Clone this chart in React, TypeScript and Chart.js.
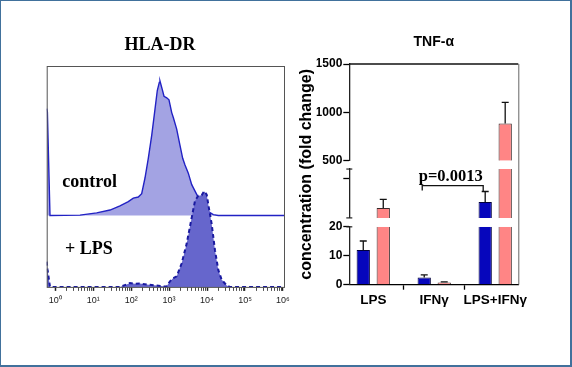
import React, { useEffect, useRef } from 'react';
import { Chart, registerables } from 'chart.js';

Chart.register(...registerables);

const SERIF = "'Liberation Serif', 'Times New Roman', Times, serif";
const SANS = "'Liberation Sans', Arial, Helvetica, sans-serif";

// ---------------- Left panel: HLA-DR histograms ----------------
const histTitle = 'HLA-DR';
const decadeTicks = [0, 1, 2, 3, 4, 5, 6];
const decadeLabels = ['10⁰', '10¹', '10²', '10³', '10⁴', '10⁵', '10⁶'];

// x in log10 units, y in relative counts (above each histogram's own baseline)
const controlLog = [-0.225, -0.207, -0.138, 0.652, 1.092, 1.443, 1.706, 1.925, 2.057, 2.188, 2.278, 2.365, 2.452, 2.542, 2.628, 2.689, 2.742, 2.76, 2.821, 2.866, 2.937, 2.997, 3.069, 3.111, 3.2, 3.287, 3.358, 3.419, 3.506, 3.596, 3.727, 3.859, 3.991, 4.165, 4.296, 6.054];
const controlCount = [48.4, 47.0, 0, 0.2, 1.2, 2.5, 4.4, 6.3, 7.9, 8.4, 9.9, 17.0, 25.9, 36.3, 48.1, 56.6, 60.3, 60.9, 57.0, 54.0, 53.3, 52.4, 46.6, 44.4, 39.1, 31.8, 25.9, 22.9, 19.2, 14.0, 9.6, 5.1, 2.2, 0.4, 0, 0];

const lpsLog = [-0.225, -0.204, -0.138, 1.706, 1.883, 1.97, 2.101, 2.233, 2.41, 2.673, 2.847, 2.918, 3.023, 3.11, 3.2, 3.332, 3.464, 3.596, 3.682, 3.769, 3.859, 3.92, 3.991, 4.033, 4.123, 4.209, 4.296, 4.384, 4.518, 4.605, 6.054];
const lpsCount = [11.4, 8.0, 0, 0, 1.1, 1.8, 1.4, 1.5, 1.1, 0.6, 0.3, 0, 2.5, 4.0, 4.8, 10.7, 19.6, 31.4, 38.9, 41.3, 41.5, 43.3, 41.8, 37.3, 28.4, 16.6, 7.7, 3.3, 0.6, 0, 0];

const histSeriesNames = ['control', '+ LPS'];
// label anchors in data units (log10, y)
const histLabelX = [0.186, 0.257];
const histLabelY = [45.3, 14.7];
const CONTROL_OFFSET = 32.3; // vertical offset of the control histogram

const minorTicks: number[] = [];
for (let d = 0; d < 6; d++) for (let k = 1; k <= 9; k++) minorTicks.push(d + Math.log10(k));
minorTicks.push(6);

// ---------------- Right panel: TNF-alpha bars ----------------
const chartTitle = 'TNF-α';
const yAxisTitle = 'concentration (fold change)';
const categories = ['LPS', 'IFNγ', 'LPS+IFNγ'];
const blueMean = [12, 2.5, 36.2];
const blueErrTop = [15.1, 3.4, 47];
const pinkMean = [30.1, 0.8, 886];
const pinkErrTop = [38.9, 1.0, 1104];
const yBotTicks = [0, 10, 20];
const yMidTicks = [60];
const yTopTicks = [500, 1000, 1500];
const segments = [
  { id: 'yBot', min: 0, max: 20, weight: 58.4 },
  { id: 'yMid', min: 20, max: 70, weight: 49.3 },
  { id: 'yTop', min: 500, max: 1500, weight: 97.7 },
];
const pText = 'p=0.0013';
const pFrom = 1;
const pTo = 2;
const pLevel = 53;
const pDrops = [48, 47];

const isInt = (v: number) => Math.abs(v - Math.round(v)) < 1e-6;

function leftConfig(): any {
  const boxPlugin = {
    id: 'histBox',
    afterDatasetsDraw(chart: any) {
      const { ctx, chartArea: a, scales } = chart;
      ctx.save();
      ctx.strokeStyle = '#555';
      ctx.lineWidth = 1;
      ctx.strokeRect(a.left + 0.5, a.top + 0.5, a.right - a.left - 1, a.bottom - a.top);
      ctx.fillStyle = '#000';
      ctx.font = `bold 18px ${SERIF}`;
      ctx.textAlign = 'left';
      ctx.textBaseline = 'alphabetic';
      histSeriesNames.forEach((t, i) => {
        ctx.fillText(t, scales.x.getPixelForValue(histLabelX[i]), scales.y.getPixelForValue(histLabelY[i]));
      });
      ctx.restore();
    },
  };
  return {
    type: 'line',
    data: {
      datasets: [
        {
          label: histSeriesNames[1],
          data: lpsLog.map((x, i) => ({ x, y: lpsCount[i] })),
          borderColor: '#1a1aa0',
          borderWidth: 2,
          borderDash: [4, 3],
          backgroundColor: '#6666cc',
          fill: { value: 0 },
          pointRadius: 0,
          tension: 0,
        },
        {
          label: histSeriesNames[0],
          data: controlLog.map((x, i) => ({ x, y: CONTROL_OFFSET + controlCount[i] })),
          borderColor: '#2222c4',
          borderWidth: 1.4,
          backgroundColor: '#a3a3e3',
          fill: { value: CONTROL_OFFSET },
          pointRadius: 0,
          tension: 0,
        },
      ],
    },
    options: {
      animation: false,
      responsive: false,
      devicePixelRatio: 1,
      layout: { padding: { left: 35, right: 15, top: 0, bottom: 57.1 } },
      plugins: {
        legend: { display: false },
        tooltip: { enabled: false },
        title: {
          display: true,
          text: histTitle,
          fullSize: true,
          color: '#000',
          font: { family: SERIF, size: 18, weight: 'bold' },
          padding: { top: 34.2, bottom: 10.2 },
        },
      },
      scales: {
        x: {
          type: 'linear',
          min: -0.225,
          max: 6.054,
          afterBuildTicks: (s: any) => {
            s.ticks = minorTicks.map((v) => ({ value: v }));
          },
          ticks: {
            autoSkip: false,
            maxRotation: 0,
            minRotation: 0,
            padding: 4.1,
            color: '#222',
            font: { family: SANS, size: 9 },
            callback: (v: any) => {
              const i = decadeTicks.findIndex((d) => Math.abs(d - v) < 1e-6);
              return i >= 0 ? decadeLabels[i] : '';
            },
          },
          grid: {
            drawOnChartArea: false,
            drawTicks: true,
            tickLength: 4,
            color: '#222',
            tickWidth: (c: any) => (c.tick && isInt(c.tick.value) ? 1.5 : 0.8),
          },
          border: { display: false },
        },
        y: {
          type: 'linear',
          min: 0,
          max: 100,
          afterFit: (s: any) => {
            s.width = 11.7;
          },
          ticks: { display: false },
          grid: { display: false },
          border: { display: false },
        },
      },
    },
    plugins: [boxPlugin],
  };
}

function rightConfig(): any {
  const seriesDefs = [
    { key: 'blue', means: blueMean, errs: blueErrTop, fill: '#0606bc', border: '#00003a' },
    { key: 'pink', means: pinkMean, errs: pinkErrTop, fill: '#ff8585', border: '#3a2a2a' },
  ];
  const datasets: any[] = [];
  seriesDefs.forEach((s) =>
    segments.forEach((seg) => {
      datasets.push({
        type: 'bar',
        label: `${s.key}-${seg.id}`,
        yAxisID: seg.id,
        stack: s.key,
        data: s.means.map((v, i) => ({ x: i, y: v > seg.min ? [seg.min, Math.min(v, seg.max)] : null })),
        errTops: s.means.map((v, i) => (v > seg.min && v <= seg.max ? s.errs[i] : null)),
        backgroundColor: s.fill,
        borderColor: s.border,
        borderSkipped: false,
        borderWidth: (c: any) => {
          const r = c.raw;
          if (!r || !r.y) return 0;
          return { top: r.y[1] < seg.max ? 1 : 0, left: 1, right: 1, bottom: 0 };
        },
        // the sample-size ruler also counts the half-unit tick marks (30.5px), so
        // a group of 40px is 1.312 of that spacing
        categoryPercentage: 1.312,
        barPercentage: 0.665,
      });
    })
  );

  const yAxis = (min: number, max: number, weight: number, ticks: number[], labels: boolean) => ({
    type: 'linear',
    position: 'left',
    stack: 'tnf',
    stackWeight: weight,
    stacked: false,
    beginAtZero: false,
    min,
    max,
    afterBuildTicks: (s: any) => {
      s.ticks = ticks.map((v) => ({ value: v }));
    },
    afterFit: (s: any) => {
      s.width = 32.7;
    },
    ticks: {
      padding: 1,
      color: '#000',
      font: { family: SANS, size: 12, weight: 'bold' },
      callback: (v: any) => (labels ? String(v) : ''),
    },
    grid: { drawOnChartArea: false, drawTicks: true, tickLength: 6, color: '#000', tickWidth: 1.3 },
    border: { display: true, color: '#222', width: 1.3 },
  });
  const gapAxis = (weight: number) => ({
    type: 'linear',
    position: 'left',
    stack: 'tnf',
    stackWeight: weight,
    min: 0,
    max: 1,
    afterFit: (s: any) => {
      s.width = 32.7;
    },
    ticks: { display: false },
    grid: { display: false },
    border: { display: false },
  });

  const errorBars = {
    id: 'errorBars',
    afterDatasetsDraw(chart: any) {
      const { ctx } = chart;
      chart.data.datasets.forEach((ds: any, di: number) => {
        if (!ds.errTops) return;
        const meta = chart.getDatasetMeta(di);
        const scale = chart.scales[ds.yAxisID];
        ds.errTops.forEach((e: number | null, i: number) => {
          if (e == null) return;
          const el = meta.data[i];
          if (!el) return;
          const ye = scale.getPixelForValue(e);
          ctx.save();
          ctx.strokeStyle = '#111';
          ctx.lineWidth = 1.3;
          ctx.beginPath();
          ctx.moveTo(el.x, el.y);
          ctx.lineTo(el.x, ye);
          ctx.moveTo(el.x - 3.5, ye);
          ctx.lineTo(el.x + 3.5, ye);
          ctx.stroke();
          ctx.restore();
        });
      });
    },
  };

  const decorations = {
    id: 'decor',
    afterDatasetsDraw(chart: any) {
      const { ctx, chartArea: a, scales } = chart;
      ctx.save();
      // frame top and right
      ctx.strokeStyle = '#111';
      ctx.lineWidth = 1.5;
      ctx.beginPath();
      ctx.moveTo(a.left, a.top);
      ctx.lineTo(a.right, a.top);
      ctx.stroke();
      ctx.strokeStyle = '#666';
      ctx.lineWidth = 1;
      ctx.beginPath();
      ctx.moveTo(a.right + 0.5, a.top);
      ctx.lineTo(a.right + 0.5, a.bottom);
      ctx.stroke();
      // axis-break caps
      ctx.strokeStyle = '#222';
      ctx.lineWidth = 1.2;
      const caps: [string, 'top' | 'bottom'][] = [
        ['yMid', 'top'],
        ['yMid', 'bottom'],
        ['yBot', 'top'],
      ];
      caps.forEach(([id, side]) => {
        const s = scales[id];
        const y = side === 'top' ? s.top : s.bottom;
        ctx.beginPath();
        ctx.moveTo(s.right - 3, y);
        ctx.lineTo(s.right + 3, y);
        ctx.stroke();
      });
      // significance bracket
      const bi = chart.data.datasets.findIndex((d: any) => d.stack === 'blue');
      const meta = chart.getDatasetMeta(bi);
      const x1 = meta.data[pFrom].x - 2;
      const x2 = meta.data[pTo].x - 2;
      const ys = scales[segments[1].id];
      const yl = ys.getPixelForValue(pLevel);
      ctx.strokeStyle = '#111';
      ctx.lineWidth = 1.3;
      ctx.beginPath();
      ctx.moveTo(x1, ys.getPixelForValue(pDrops[0]));
      ctx.lineTo(x1, yl);
      ctx.lineTo(x2, yl);
      ctx.lineTo(x2, ys.getPixelForValue(pDrops[1]));
      ctx.stroke();
      ctx.fillStyle = '#000';
      ctx.font = `bold 16.5px ${SERIF}`;
      ctx.textAlign = 'center';
      ctx.textBaseline = 'alphabetic';
      ctx.fillText(pText, (x1 + x2) / 2 - 2, yl - 4.5);
      ctx.restore();
    },
  };

  return {
    type: 'bar',
    data: { datasets },
    options: {
      animation: false,
      responsive: false,
      devicePixelRatio: 1,
      layout: { padding: { left: 7.4, right: 53.7, top: 0, bottom: 57.1 } },
      plugins: {
        legend: { display: false },
        tooltip: { enabled: false },
        title: {
          display: true,
          text: chartTitle,
          position: 'top',
          fullSize: false,
          color: '#000',
          font: { family: SANS, size: 14, weight: 'bold' },
          padding: { top: 33.3, bottom: 13.9 },
        },
        subtitle: {
          display: true,
          text: yAxisTitle,
          position: 'left',
          fullSize: false,
          color: '#000',
          font: { family: SANS, size: 16, weight: 'bold' },
          padding: 0,
        },
      },
      scales: {
        x: {
          type: 'linear',
          min: -0.393,
          max: 2.379,
          offset: false,
          afterBuildTicks: (s: any) => {
            s.ticks = [0, 0.5, 1, 1.5, 2].map((v) => ({ value: v }));
          },
          ticks: {
            autoSkip: false,
            maxRotation: 0,
            minRotation: 0,
            padding: 2,
            color: '#000',
            font: { family: SANS, size: 13.5, weight: 'bold' },
            callback: (v: any) => (isInt(v) ? categories[Math.round(v)] : ''),
          },
          grid: {
            offset: false,
            drawOnChartArea: false,
            drawTicks: true,
            tickLength: 5,
            tickWidth: 1.3,
            color: (c: any) => (c.tick && isInt(c.tick.value) ? 'rgba(0,0,0,0)' : '#000'),
          },
          border: { display: true, color: '#000', width: 1.3 },
        },
        yBot: yAxis(segments[0].min, segments[0].max, segments[0].weight, yBotTicks, true),
        gapA: gapAxis(9),
        yMid: yAxis(segments[1].min, segments[1].max, segments[1].weight, yMidTicks, false),
        gapB: gapAxis(8.3),
        yTop: yAxis(segments[2].min, segments[2].max, segments[2].weight, yTopTicks, true),
      },
    },
    plugins: [errorBars, decorations],
  };
}

export default function App() {
  const leftRef = useRef<HTMLCanvasElement>(null);
  const rightRef = useRef<HTMLCanvasElement>(null);
  useEffect(() => {
    const c1 = new Chart(leftRef.current as HTMLCanvasElement, leftConfig());
    const c2 = new Chart(rightRef.current as HTMLCanvasElement, rightConfig());
    return () => {
      c1.destroy();
      c2.destroy();
    };
  }, []);
  return (
    <div style={{ position: 'absolute', left: 0, top: 0, width: 572, height: 367, background: '#fff', overflow: 'hidden' }}>
      <canvas ref={leftRef} width={300} height={367} style={{ position: 'absolute', left: 0, top: 0, width: 300, height: 367 }} />
      <canvas ref={rightRef} width={282} height={367} style={{ position: 'absolute', left: 290, top: 0, width: 282, height: 367 }} />
      <div
        style={{
          position: 'absolute',
          left: 0,
          top: 0,
          width: 572,
          height: 367,
          boxSizing: 'border-box',
          borderStyle: 'solid',
          borderColor: '#41719c',
          borderWidth: '1px 2px 2px 1px',
          pointerEvents: 'none',
        }}
      />
    </div>
  );
}
